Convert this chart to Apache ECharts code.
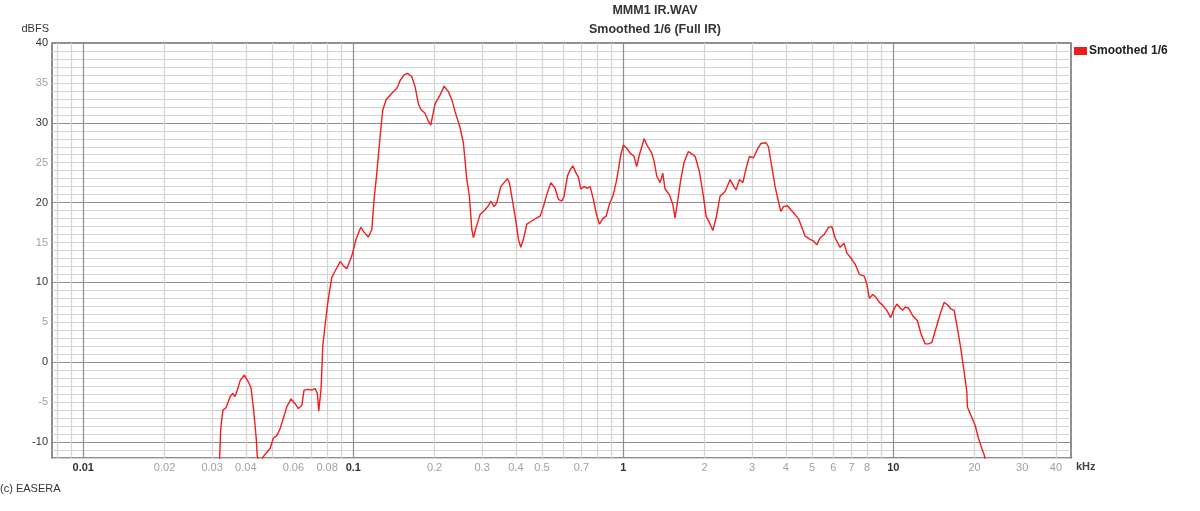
<!DOCTYPE html>
<html>
<head>
<meta charset="utf-8">
<script src="https://cdn.jsdelivr.net/npm/echarts@6/dist/echarts.min.js"></script>
<style>
html,body{margin:0;padding:0;background:#fff;}
#chart{width:1200px;height:511px;}
</style>
</head>
<body>
<div id="chart"></div>
<script>
// Frequency in kHz
const freqs = [
0.0319,0.0323,0.0329,0.0338,0.0350,0.0358,0.0365,0.0375,0.0381,0.0395,
0.0409,0.0418,0.0427,0.0437,0.0441,0.0452,0.0465,0.0475,0.0492,0.0506,
0.0521,0.0536,0.0551,0.0567,0.0588,0.0609,0.0626,0.0645,0.0657,0.0682,
0.0702,0.0722,0.0736,0.0745,0.0760,0.0771,0.0786,0.0808,0.0832,0.0856,
0.0894,0.0919,0.0946,0.0987,0.1024,0.1066,0.1096,0.1137,0.1171,0.1194,
0.1222,0.1257,0.1286,0.1323,0.1389,0.1449,0.1491,0.1542,0.1586,0.1647,
0.1694,0.1742,0.1778,0.1844,0.1897,0.1936,0.1970,0.2009,0.2084,0.2169,
0.2250,0.2317,0.2382,0.2472,0.2557,0.2633,0.2692,0.2748,0.2786,0.2850,
0.2948,0.3077,0.3165,0.3231,0.3323,0.3400,0.3518,0.3618,0.3722,0.3786,
0.3898,0.4009,0.4089,0.4173,0.4266,0.4392,0.4582,0.4782,0.4918,0.5059,
0.5208,0.5389,0.5590,0.5749,0.5919,0.6036,0.6209,0.6353,0.6501,0.6686,
0.6819,0.6960,0.7159,0.7362,0.7534,0.7749,0.7930,0.8155,0.8396,0.8636,
0.8883,0.9144,0.9404,0.9591,0.9788,1.001,1.030,1.060,1.096,1.122,
1.147,1.171,1.194,1.228,1.275,1.300,1.331,1.369,1.400,1.428,
1.481,1.525,1.555,1.586,1.633,1.680,1.742,1.768,1.845,1.913,
1.980,2.026,2.097,2.146,2.207,2.283,2.382,2.487,2.558,2.617,
2.692,2.771,2.850,2.931,3.033,3.139,3.231,3.380,3.447,3.548,
3.650,3.722,3.831,3.917,4.054,4.173,4.328,4.452,4.583,4.713,
4.918,5.059,5.208,5.357,5.543,5.750,5.920,6.085,6.353,6.573,
6.726,7.019,7.220,7.489,7.796,7.977,8.156,8.396,8.636,8.882,
9.144,9.461,9.788,10.01,10.30,10.60,10.84,11.06,11.37,11.81,
12.28,12.65,13.12,13.49,13.89,14.49,14.99,15.42,15.87,16.33,
16.80,17.28,17.78,18.29,18.72,18.81,19.36,20.09,20.66,21.27,
21.70,21.90
];
// Level in dBFS (Smoothed 1/6)
const levels = [
-13,-8.3,-6.0,-5.7,-4.3,-3.9,-4.3,-3.1,-2.3,-1.6,
-2.5,-3.2,-5.8,-9.5,-11.8,-12.5,-11.8,-11.4,-10.8,-9.5,
-9.2,-8.3,-7.0,-5.6,-4.6,-5.2,-5.8,-5.4,-3.5,-3.4,
-3.5,-3.3,-3.9,-6.1,-3.3,2.1,4.6,7.9,10.6,11.4,
12.6,12.1,11.7,13.3,15.4,16.9,16.3,15.7,16.6,20.4,
23.7,28.3,31.6,32.9,33.7,34.3,35.3,36.0,36.2,35.8,
34.5,32.4,31.7,31.2,30.2,29.7,31.0,32.4,33.3,34.6,
33.9,32.9,31.4,29.7,27.5,22.9,20.8,16.6,15.6,16.9,
18.5,19.1,19.6,20.2,19.5,20.0,22.0,22.5,23.0,22.5,
20.0,17.5,15.4,14.4,15.4,17.3,17.7,18.1,18.3,19.5,
21.0,22.5,21.8,20.4,20.2,20.8,23.3,24.1,24.6,23.7,
23.2,21.7,22.0,21.8,22.0,20.4,18.7,17.3,18.0,18.3,
19.8,20.8,22.5,24.1,26.0,27.2,26.8,26.2,25.8,24.5,
26.0,27.0,28.0,27.1,26.2,25.2,23.3,22.5,23.7,21.7,
21.0,19.8,18.1,20.0,22.9,25.1,26.4,26.5,25.8,23.9,
20.8,18.3,17.3,16.5,18.1,20.8,21.4,22.9,22.1,21.6,
22.9,22.5,24.3,25.8,25.6,26.7,27.4,27.5,27.0,24.5,
22.0,20.7,18.9,19.5,19.6,19.1,18.5,18.0,16.9,15.8,
15.4,15.2,14.7,15.6,16.0,16.9,17.0,15.6,14.4,14.9,
13.7,12.9,12.3,11.0,10.8,9.8,8.0,8.5,8.1,7.5,
7.1,6.5,5.6,6.5,7.3,6.8,6.5,6.9,6.8,5.8,
5.2,3.6,2.3,2.3,2.5,4.6,6.3,7.5,7.2,6.7,
6.5,4.2,1.7,-1.2,-3.7,-5.6,-6.6,-7.9,-9.5,-10.8,
-11.6,-12.2
];
// Axis ticks
const gridFreqs = [0.008,0.009,0.01,0.02,0.03,0.04,0.05,0.06,0.07,0.08,0.09,
  0.1,0.2,0.3,0.4,0.5,0.6,0.7,0.8,0.9,1,2,3,4,5,6,7,8,9,10,20,30,40];
const decadeFreqs = [0.01,0.1,1,10];
const labelFreqs = [0.01,0.02,0.03,0.04,0.06,0.08,0.1,0.2,0.3,0.4,0.5,0.7,1,2,3,4,5,6,7,8,10,20,30,40];
const labelTexts = ['0.01','0.02','0.03','0.04','0.06','0.08','0.1','0.2','0.3','0.4','0.5','0.7','1','2','3','4','5','6','7','8','10','20','30','40'];
const yTickLabels = [-10,-5,0,5,10,15,20,25,30,35,40];
const seriesName = 'Smoothed 1/6';
const titleLines = ['MMM1 IR.WAV', 'Smoothed 1/6 (Full IR)'];

const FONT = '"Liberation Sans", Arial, sans-serif';
const MAJ = '#8e8e8e', MIN = '#d3d3d3';
function near(a, b) { return Math.abs(a - b) / b < 1e-6; }
const xLineColors = gridFreqs.map(f => decadeFreqs.some(d => near(f, d)) ? MAJ : MIN);
// y ticks from -12 to 40 step 1; major at multiples of 10
const yLineColors = [];
for (let v = -12; v <= 40; v++) yLineColors.push(v % 10 === 0 ? MAJ : MIN);

const chart = echarts.init(document.getElementById('chart'), null, {renderer: 'canvas'});
chart.setOption({
  animation: false,
  backgroundColor: '#ffffff',
  textStyle: {fontFamily: FONT},
  title: {
    text: titleLines.join('\n'),
    left: 650, top: 0, textAlign: 'center',
    padding: [1, 5, 5, 5],
    textStyle: {fontFamily: FONT, fontSize: 12.5, fontWeight: 'bold', color: '#333', lineHeight: 19}
  },
  legend: {
    left: 1069, top: 40, orient: 'vertical',
    icon: 'rect', itemWidth: 13, itemHeight: 8,
    data: [seriesName],
    textStyle: {fontFamily: FONT, fontSize: 12, fontWeight: 'bold', color: '#222', padding: [0,0,0,-3]}
  },
  grid: {
    left: 52, right: 129, top: 43, bottom: 53,
    show: true, borderColor: '#6a6a6a', borderWidth: 1.5, backgroundColor: 'transparent'
  },
  xAxis: {
    type: 'log', logBase: 10, min: 0.00766, max: 45.5,
    name: 'kHz', nameLocation: 'end', nameGap: 5,
    nameTextStyle: {fontFamily: FONT, fontSize: 11, fontWeight: 'bold', color: '#444', verticalAlign: 'top', padding: [3,0,0,0]},
    axisLine: {show: false, onZero: false},
    axisTick: {show: false, customValues: gridFreqs},
    splitLine: {show: true, lineStyle: {color: xLineColors, width: 1.2}},
    axisLabel: {
      customValues: labelFreqs, margin: 4,
      fontFamily: FONT, fontSize: 11,
      formatter: function (v) {
        for (let i = 0; i < labelFreqs.length; i++) {
          if (near(v, labelFreqs[i])) {
            const isDec = decadeFreqs.some(d => near(v, d));
            return '{' + (isDec ? 'maj' : 'min') + '|' + labelTexts[i] + '}';
          }
        }
        return '';
      },
      rich: {
        maj: {color: '#333', fontWeight: 'bold', fontSize: 11, fontFamily: FONT},
        min: {color: '#a0a0a0', fontSize: 11, fontFamily: FONT}
      }
    }
  },
  yAxis: {
    type: 'value', min: -12, max: 40, interval: 1,
    name: 'dBFS', nameLocation: 'end', nameGap: 9,
    nameTextStyle: {fontFamily: FONT, fontSize: 11, color: '#333', align: 'right', padding: [0, 3, 0, 0]},
    axisLine: {show: false},
    axisTick: {show: false},
    splitLine: {show: true, lineStyle: {color: yLineColors, width: 1}},
    axisLabel: {
      margin: 4, fontFamily: FONT, fontSize: 11,
      formatter: function (v) {
        if (yTickLabels.indexOf(v) < 0) return '';
        return '{' + (v % 10 === 0 ? 'maj' : 'min') + '|' + v + '}';
      },
      rich: {
        maj: {color: '#333', fontSize: 11, fontFamily: FONT},
        min: {color: '#a0a0a0', fontSize: 11, fontFamily: FONT}
      }
    }
  },
  graphic: [{
    type: 'text', left: 0, top: 483,
    style: {text: '(c) EASERA', font: '11px ' + FONT, fill: '#333'}
  }],
  series: [{
    name: seriesName, type: 'line',
    data: freqs.map((f, i) => [f, levels[i]]),
    showSymbol: false, symbol: 'none', clip: true,
    color: '#ee1c1c',
    lineStyle: {color: '#f01e1e', width: 1.4},
    itemStyle: {color: '#ee1c1c'}
  }]
});
</script>
</body>
</html>
